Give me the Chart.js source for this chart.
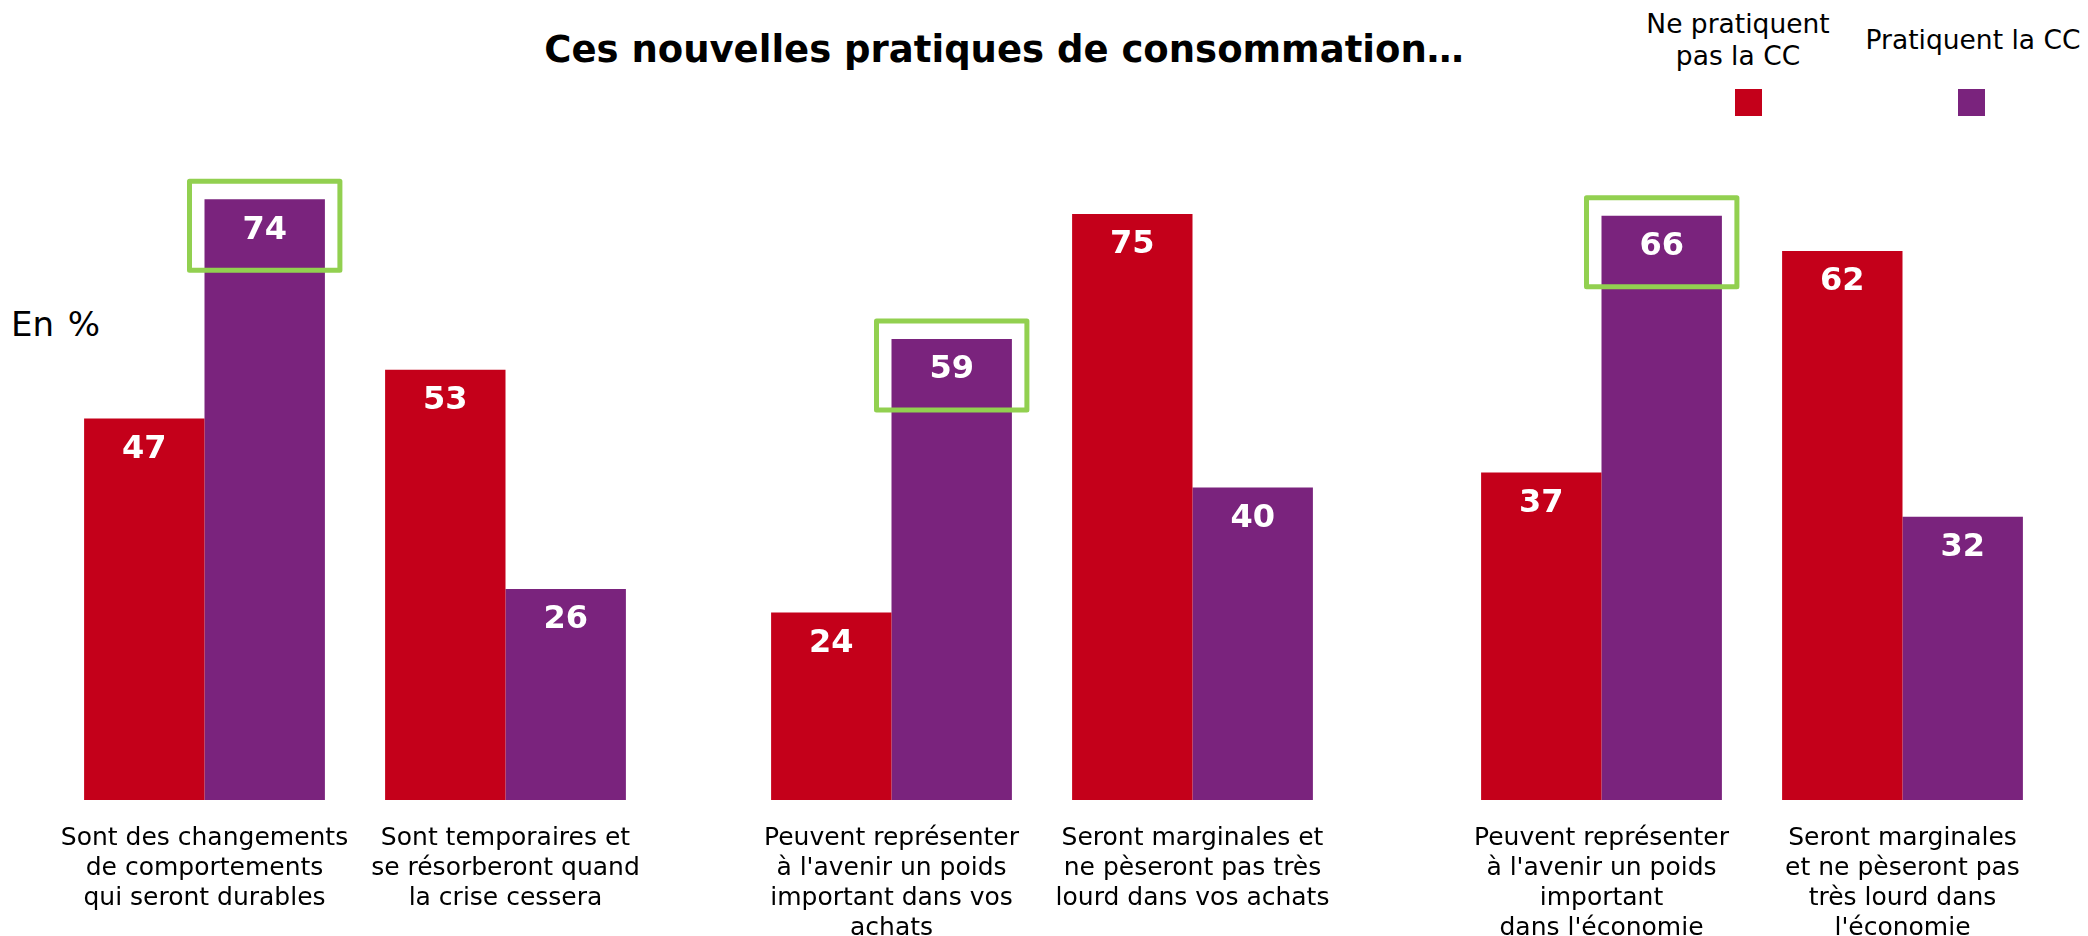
<!DOCTYPE html>
<html>
<head>
<meta charset="utf-8">
<script src="https://cdn.jsdelivr.net/npm/chart.js@4.4.0/dist/chart.umd.min.js"></script>
<style>
  body { margin: 0; background: #fff; width: 2088px; height: 936px; overflow: hidden; position: relative; font-family: "DejaVu Sans", Verdana, sans-serif; }
  .panel { position: absolute; top: 136px; width: 602px; height: 814px; }
  #title { position: absolute; left: 0; width: 2008px; top: 28px; text-align: center; font-weight: bold; font-size: 37px; color: #000; }
  #unit { position: absolute; left: 11px; top: 307px; font-size: 34px; line-height: 34px; color: #000; word-spacing: 3px; }
  .leg { position: absolute; text-align: center; font-size: 26.5px; line-height: 32px; color: #000; }
  .sw { position: absolute; width: 27px; height: 27px; top: 89px; }
</style>
</head>
<body>
<div id="title">Ces nouvelles pratiques de consommation…</div>
<div id="unit">En %</div>
<div class="leg" style="left:1628px; width:220px; top:8px;">Ne pratiquent<br>pas la CC</div>
<div class="leg" style="left:1853px; width:240px; top:24px;">Pratiquent la CC</div>
<div class="sw" style="left:1735px; background:#C4001A;"></div>
<div class="sw" style="left:1958px; background:#7A237D;"></div>

<div class="panel" style="left:54px;"><canvas id="c1"></canvas></div>
<div class="panel" style="left:741px;"><canvas id="c2"></canvas></div>
<div class="panel" style="left:1451px;"><canvas id="c3"></canvas></div>

<script>
  // categories, two per panel
  const labels1 = [["Sont des changements", "de comportements", "qui seront durables"],
                   ["Sont temporaires et", "se résorberont quand", "la crise cessera"]];
  const labels2 = [["Peuvent représenter", "à l'avenir un poids", "important dans vos", "achats"],
                   ["Seront marginales et", "ne pèseront pas très", "lourd dans vos achats"]];
  const labels3 = [["Peuvent représenter", "à l'avenir un poids", "important", "dans l'économie"],
                   ["Seront marginales", "et ne pèseront pas", "très lourd dans", "l'économie"]];

  // "Ne pratiquent pas la CC" / "Pratiquent la CC"
  const nonPratiquants = [47, 53, 24, 75, 37, 62];
  const pratiquants = [74, 26, 59, 40, 66, 32];

  // each panel was its own chart with its own scale
  const panelMax = [81.8, 85, 75];
  // bar framed in green in each panel (purple series)
  const highlighted = [0, 0, 0];

  const RED = '#C4001A';
  const PURPLE = '#7A237D';
  const GREEN = '#92D050';

  const valuePlugin = {
    id: 'values',
    afterDatasetsDraw(chart) {
      const ctx = chart.ctx;
      ctx.save();
      ctx.fillStyle = '#fff';
      ctx.font = 'bold 32px "DejaVu Sans"';
      ctx.textAlign = 'center';
      ctx.textBaseline = 'middle';
      chart.data.datasets.forEach((ds, i) => {
        chart.getDatasetMeta(i).data.forEach((bar, j) => {
          ctx.fillText(ds.data[j], bar.x, bar.y + 31);
        });
      });
      // green frame
      const hi = chart.options.plugins.values.highlight;
      const bar = chart.getDatasetMeta(1).data[hi];
      ctx.strokeStyle = GREEN;
      ctx.lineWidth = 5;
      ctx.lineJoin = 'round';
      ctx.strokeRect(bar.x - bar.width / 2 - 15, bar.y - 18, bar.width + 30, 89);
      ctx.restore();
    }
  };

  function makeChart(id, labels, p) {
    const ctx = document.getElementById(id).getContext('2d');
    return new Chart(ctx, {
      type: 'bar',
      data: {
        labels: labels,
        datasets: [{
          label: "Ne pratiquent pas la CC",
          backgroundColor: RED,
          data: nonPratiquants.slice(p * 2, p * 2 + 2)
        }, {
          label: "Pratiquent la CC",
          backgroundColor: PURPLE,
          data: pratiquants.slice(p * 2, p * 2 + 2)
        }]
      },
      options: {
        responsive: true,
        maintainAspectRatio: false,
        animation: false,
        layout: { padding: 0 },
        categoryPercentage: 0.8,
        barPercentage: 1.0,
        plugins: {
          legend: { display: false },
          tooltip: { enabled: false },
          values: { highlight: highlighted[p] }
        },
        scales: {
          y: { display: false, min: 0, max: panelMax[p] },
          x: {
            grid: { display: true, color: 'rgba(0,0,0,0)', drawOnChartArea: false, drawTicks: true, tickLength: 23 },
            border: { display: false },
            ticks: {
              color: '#000',
              padding: 0,
              maxRotation: 0,
              autoSkip: false,
              font: { family: 'DejaVu Sans', size: 25, lineHeight: 1.2 }
            },
            afterFit(scale) { scale.height = 150; }
          }
        }
      },
      plugins: [valuePlugin]
    });
  }

  makeChart('c1', labels1, 0);
  makeChart('c2', labels2, 1);
  makeChart('c3', labels3, 2);
</script>
</body>
</html>
